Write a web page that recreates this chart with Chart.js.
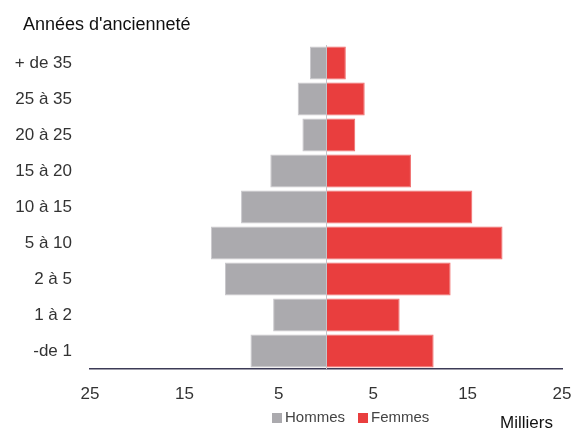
<!DOCTYPE html>
<html>
<head>
<meta charset="utf-8">
<script src="https://cdn.jsdelivr.net/npm/chart.js@4/dist/chart.umd.min.js"></script>
<style>
  html, body { margin: 0; padding: 0; background: #fff; }
  #wrap { width: 574px; height: 430px; position: relative; }
</style>
</head>
<body>
<div id="wrap"><canvas id="c" width="574" height="430"></canvas></div>
<script>
// Effectifs par ancienneté (milliers)
const categories = ['+ de 35', '25 à 35', '20 à 25', '15 à 20', '10 à 15', '5 à 10', '2 à 5', '1 à 2', '-de 1'];
const hommes = [-1.7, -3.0, -2.5, -5.9, -9.0, -12.2, -10.7, -5.6, -8.0];
const femmes = [2.1, 4.1, 3.1, 9.0, 15.5, 18.7, 13.2, 7.8, 11.4];
const xTicks = [-25, -15, -5, 5, 15, 25];
const seriesNames = ['Hommes', 'Femmes'];
const titleText = "Années d'ancienneté";
const unitText = 'Milliers';

const FONT = '"Liberation Sans", Arial, Helvetica, sans-serif';
const GREY = '#abaaae';
const RED = '#e93e3e';

// Title, zero line, legend and unit label
const decor = {
  id: 'decor',
  afterDatasetsDraw(chart) {
    const { ctx, chartArea, scales } = chart;
    const x0 = scales.x.getPixelForValue(0);
    ctx.save();
    ctx.strokeStyle = '#c4c4c9';
    ctx.lineWidth = 1;
    ctx.beginPath();
    ctx.moveTo(Math.round(x0) + 0.5, chartArea.top);
    ctx.lineTo(Math.round(x0) + 0.5, chartArea.bottom);
    ctx.stroke();
    ctx.restore();
  },
  afterDraw(chart) {
    const { ctx } = chart;
    ctx.save();
    ctx.textBaseline = 'middle';
    ctx.fillStyle = '#111';
    ctx.font = '18px ' + FONT;
    ctx.textAlign = 'left';
    ctx.fillText(titleText, 23, 25);

    // legend
    ctx.font = '15px ' + FONT;
    let x = 272;
    const y = 418;
    chart.data.datasets.forEach((ds) => {
      ctx.fillStyle = ds.backgroundColor;
      ctx.fillRect(x, y - 5, 10, 10);
      x += 13;
      ctx.fillStyle = '#444';
      ctx.fillText(ds.label, x, y);
      x += ctx.measureText(ds.label).width + 13;
    });

    ctx.fillStyle = '#111';
    ctx.font = '17px ' + FONT;
    ctx.fillText(unitText, 500, 423);
    ctx.restore();
  }
};

new Chart(document.getElementById('c'), {
  type: 'bar',
  data: {
    labels: categories,
    datasets: [
      { label: seriesNames[0], data: hommes, backgroundColor: GREY, borderColor: '#c9c8cc', borderWidth: 1 },
      { label: seriesNames[1], data: femmes, backgroundColor: RED, borderColor: '#f06a6a', borderWidth: 1 }
    ]
  },
  options: {
    indexAxis: 'y',
    responsive: false,
    animation: false,
    devicePixelRatio: 1,
    layout: { padding: { top: 45, right: 0, left: 0, bottom: 0 } },
    datasets: { bar: { barPercentage: 0.91, categoryPercentage: 1.0 } },
    plugins: { legend: { display: false }, tooltip: { enabled: false } },
    scales: {
      x: {
        stacked: true,
        min: -25,
        max: 25,
        afterBuildTicks(scale) { scale.ticks = xTicks.map(v => ({ value: v })); },
        afterFit(scale) { scale.height = 61; scale.paddingRight = 12; },
        grid: { display: false, drawTicks: false },
        border: { display: true, color: '#3c3b56', width: 1.5 },
        ticks: {
          padding: 15,
          color: '#333',
          font: { family: FONT, size: 17 },
          callback: (v) => Math.abs(v)
        }
      },
      y: {
        stacked: true,
        afterFit(scale) { scale.width = 90; },
        grid: { display: false, drawTicks: false },
        border: { display: false },
        ticks: {
          padding: 18,
          color: '#333',
          font: { family: FONT, size: 17 }
        }
      }
    }
  },
  plugins: [decor]
});
</script>
</body>
</html>
